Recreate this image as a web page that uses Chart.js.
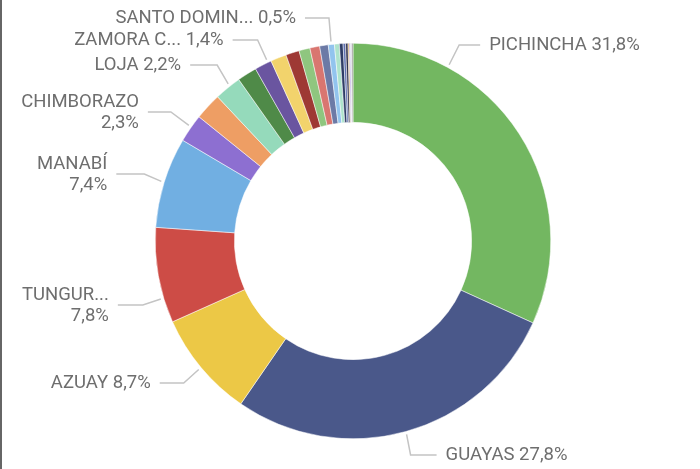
<!DOCTYPE html>
<html lang="es">
<head>
<meta charset="utf-8">
<title>Provincias</title>
<script src="https://cdn.jsdelivr.net/npm/chart.js@4.4.0/dist/chart.umd.min.js"></script>
<style>
  html, body { margin: 0; padding: 0; background: #fff; }
  #contenedor { position: relative; width: 700px; height: 469px; }
  #borde { position: absolute; left: 0; top: 0; width: 2px; height: 469px; background: #666; }
</style>
</head>
<body>
<div id="contenedor">
  <canvas id="grafico-provincias"></canvas>
  <div id="borde"></div>
</div>
<script>
// Datos (porcentaje por provincia)
const provincias = [
  "Pichincha", "Guayas", "Azuay", "Tungurahua", "Manabí", "Chimborazo",
  "El Oro", "Loja", "Imbabura", "Zamora Chinchipe", "Cotopaxi", "Los Ríos",
  "Esmeraldas", "Cañar", "Santa Elena", "Santo Domingo de los Tsáchilas",
  "Carchi", "Bolívar", "Sucumbíos", "Orellana", "Napo", "Pastaza",
  "Morona Santiago", "Galápagos"
];
const porcentajes = [
  31.8, 27.8, 8.7, 7.8, 7.4, 2.3,
  2.2, 2.2, 1.6, 1.4, 1.3, 1.1,
  0.9, 0.8, 0.7, 0.5,
  0.4, 0.3, 0.2, 0.2, 0.1, 0.1,
  0.1, 0.1
];
const colores = [
  "#73b761", "#4a588a", "#ecc846", "#cd4c46", "#71afe2", "#8d6fd1",
  "#ee9e64", "#95dabb", "#4f8a48", "#6a55a0", "#f2d36c", "#9e3934",
  "#8fc67f", "#d97670", "#6c7aa6", "#92c4ee", "#aee3cc", "#2f3d66",
  "#5d6fb0", "#34344e", "#c79a3c", "#9b82d8", "#c8d2dc", "#8a8a8a"
];

// Etiquetas visibles y su colocacion (pos = fraccion dentro del arco)
const etiquetas = [
  { indice: 0, pos: 0.25, y: 45, dx: 10, tramo: 21, lado: "der" },
  { indice: 1, pos: 0.5, y: 455, dx: 4, tramo: 26, lado: "der" },
  { indice: 2, pos: 0.5, y: 383, dx: -15, tramo: 24, lado: "izq" },
  { indice: 3, pos: 0.26, y: 305, dx: -18, tramo: 25, lado: "izq", dosLineas: true, corte: 6 },
  { indice: 4, pos: 0.5, y: 174, dx: -17, tramo: 28, lado: "izq", dosLineas: true },
  { indice: 5, pos: 0.55, y: 112, dx: -18, tramo: 23, lado: "izq", dosLineas: true },
  { indice: 7, pos: 0.6, y: 65, dx: -11, tramo: 27, lado: "izq" },
  { indice: 9, pos: 0.8, y: 40, dx: -9, tramo: 25, lado: "izq", corte: 8 },
  { indice: 15, pos: 0.5, y: 18, dx: -2, tramo: 24, lado: "izq", corte: 11 }
];

const etiquetasExternas = {
  id: "etiquetasExternas",
  afterDraw(chart) {
    const ctx = chart.ctx;
    const arcos = chart.getDatasetMeta(0).data;
    const total = porcentajes.reduce((acc, val) => acc + val, 0);

    ctx.save();
    ctx.font = "18.5px Roboto";
    ctx.fillStyle = "#6e6e6e";
    ctx.strokeStyle = "#c4c4c4";
    ctx.lineWidth = 1.5;
    ctx.textBaseline = "middle";

    etiquetas.forEach((et) => {
      const arco = arcos[et.indice];
      const { x, y, startAngle, endAngle, outerRadius } =
        arco.getProps(["x", "y", "startAngle", "endAngle", "outerRadius"], true);
      const ang = startAngle + (endAngle - startAngle) * et.pos;
      const r = outerRadius + 3;
      const x0 = x + Math.cos(ang) * r;
      const y0 = y + Math.sin(ang) * r;
      const x1 = x0 + et.dx;
      const dir = et.lado === "der" ? 1 : -1;
      const x2 = x1 + dir * et.tramo;

      ctx.beginPath();
      ctx.moveTo(x0, y0);
      ctx.lineTo(x1, et.y);
      ctx.lineTo(x2, et.y);
      ctx.stroke();

      let nombre = provincias[et.indice].toUpperCase();
      if (et.corte) nombre = nombre.slice(0, et.corte) + "...";
      const pct = (porcentajes[et.indice] / total * 100).toFixed(1).replace(".", ",") + "%";
      const xt = x2 + dir * 9;
      ctx.textAlign = et.lado === "der" ? "left" : "right";

      if (et.dosLineas) {
        ctx.fillText(nombre, xt, et.y - 10);
        ctx.fillText(pct, xt, et.y + 11);
      } else {
        ctx.fillText(`${nombre} ${pct}`, xt, et.y);
      }
    });
    ctx.restore();
  }
};

document.addEventListener("DOMContentLoaded", () => {
  const ctx = document.getElementById("grafico-provincias").getContext("2d");

  new Chart(ctx, {
    type: "doughnut",
    data: {
      labels: provincias,
      datasets: [
        {
          data: porcentajes,
          backgroundColor: colores,
          borderColor: "#ffffff",
          borderWidth: 0.5,
          hoverOffset: 0
        }
      ]
    },
    options: {
      responsive: true,
      maintainAspectRatio: false,
      animation: false,
      cutout: "60%",
      layout: {
        padding: { top: 43, bottom: 30, left: 9, right: 3 }
      },
      plugins: {
        legend: { display: false },
        tooltip: { enabled: false }
      }
    },
    plugins: [etiquetasExternas]
  });
});
</script>
</body>
</html>
